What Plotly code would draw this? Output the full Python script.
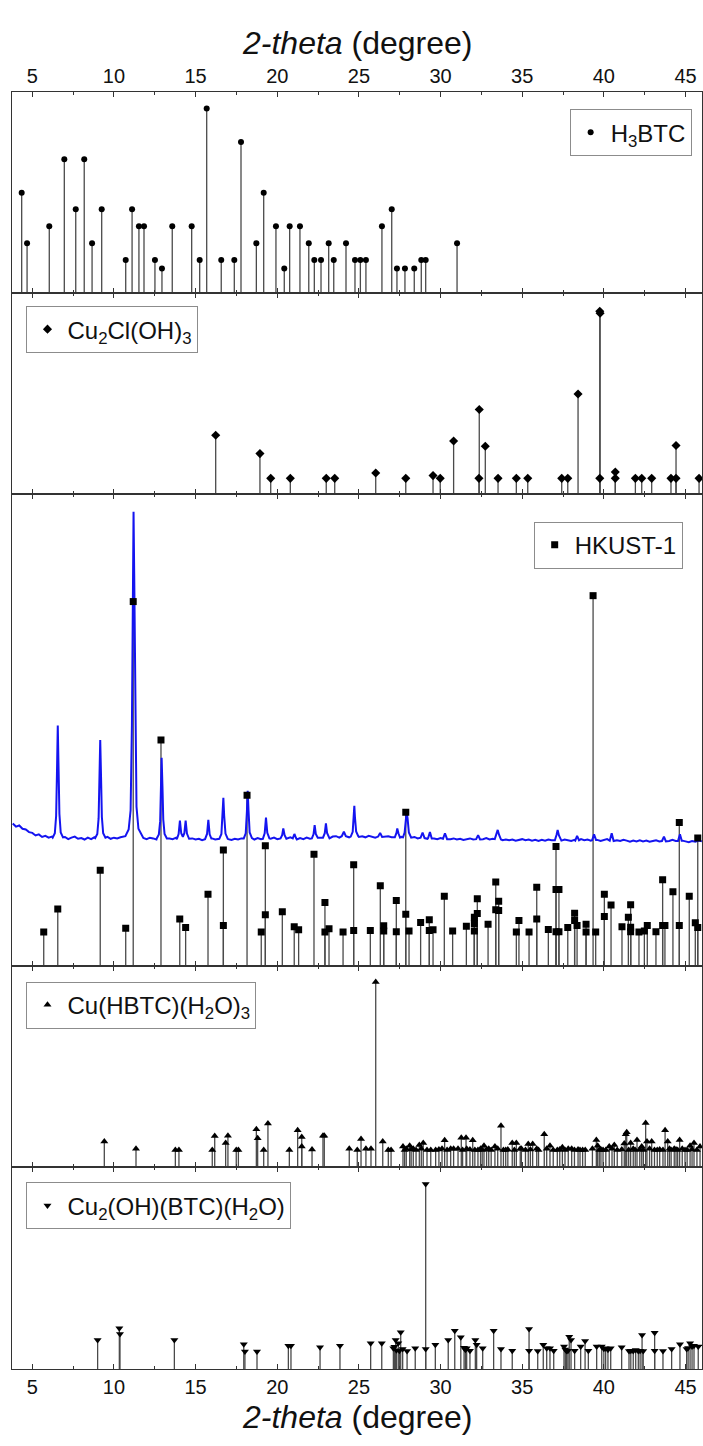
import numpy as np
import plotly.graph_objects as go
from plotly.subplots import make_subplots

FONT = "Arial, 'Liberation Sans', sans-serif"

# ---------------- reference stick patterns (2-theta, relative intensity) ----------------
h3btc_2theta = [4.35, 4.68, 6.04, 6.96, 7.66, 8.18, 8.66, 9.25, 10.72, 11.11, 11.53, 11.84,
                12.51, 12.94, 13.57, 14.76, 15.25, 15.68, 16.57, 17.37, 17.78, 18.72, 19.17,
                19.92, 20.43, 20.76, 21.39, 21.93, 22.27, 22.68, 23.15, 23.46, 24.21, 24.76,
                25.09, 25.43, 26.41, 27.01, 27.33, 27.82, 28.39, 28.82, 29.09, 31.01]
h3btc_int = [54.5, 27.1, 36.3, 72.6, 45.5, 72.6, 27.1, 45.5, 18.0, 45.5, 36.3, 36.3,
             18.0, 13.4, 36.3, 36.3, 18.0, 100, 18.0, 18.0, 81.9, 27.1, 54.5,
             36.3, 13.4, 36.3, 36.3, 27.1, 18.0, 18.0, 27.1, 18.0, 27.1, 18.0,
             18.0, 18.0, 36.3, 45.5, 13.4, 13.4, 13.4, 18.0, 18.0, 27.1]

cucl_2theta = [16.23, 18.94, 19.60, 20.80, 23.00, 23.52, 26.03, 27.87, 29.54, 29.98, 30.80,
               32.35, 32.37, 32.74, 33.52, 34.64, 35.34, 37.42, 37.79, 38.42, 39.75, 39.77,
               39.75, 40.70, 40.70, 41.93, 42.32, 42.93, 44.11, 44.42, 44.42, 45.83]
cucl_int = [32.2, 22.2, 8.7, 8.7, 8.7, 8.7, 11.6, 8.7, 10.2, 8.7, 29.1,
            8.7, 46.3, 26.2, 8.7, 8.7, 8.7, 8.7, 8.7, 54.8, 100, 98.9,
            8.7, 12.2, 8.7, 8.7, 8.7, 8.7, 8.7, 26.6, 8.7, 8.7]

hkust_2theta = [5.70, 6.56, 9.16, 10.72, 11.18, 12.88, 14.03, 14.39, 15.76, 16.70, 16.70,
                18.15, 19.02, 19.27, 19.27, 20.31, 21.04, 21.31, 22.25, 22.92, 22.92, 23.17,
                24.03, 24.68, 24.68, 25.70, 26.31, 26.52, 26.52, 27.29, 27.29, 27.87, 27.87,
                28.07, 28.78, 29.31, 29.31, 29.54, 30.23, 30.74, 31.58, 32.07, 32.07, 32.07,
                32.25, 32.25, 32.91, 33.38, 33.38, 33.56, 33.56, 34.64, 34.80, 35.42, 35.89,
                35.89, 36.60, 37.07, 37.07, 37.07, 37.25, 37.25, 37.79, 38.21, 38.21, 38.36,
                38.91, 38.91, 39.34, 39.50, 40.03, 40.03, 40.44, 41.11, 41.50, 41.64, 41.64,
                41.64, 42.15, 42.48, 42.66, 43.19, 43.60, 43.60, 43.74, 44.23, 44.62, 44.62,
                45.23, 45.60, 45.75, 45.75]
hkust_int = [9.1, 15.3, 25.8, 10.1, 98.4, 61.0, 12.6, 10.3, 19.3, 31.3, 10.9,
             46.1, 9.1, 32.4, 13.8, 14.6, 10.5, 9.7, 30.1, 17.1, 9.1, 10.0,
             9.1, 27.3, 9.5, 9.5, 21.6, 10.8, 9.4, 17.6, 9.2, 41.5, 13.9,
             9.4, 11.7, 12.4, 9.5, 9.7, 18.8, 9.4, 10.7, 13.1, 11.4, 9.4,
             18.1, 14.1, 11.2, 22.6, 15.1, 17.4, 14.9, 9.1, 12.2, 9.1, 21.2,
             12.6, 9.8, 32.2, 20.6, 9.2, 20.6, 9.2, 10.3, 14.2, 12.2, 10.9,
             11.2, 9.1, 100, 9.1, 19.3, 13.3, 16.4, 10.5, 13.1, 16.5, 10.4,
             9.2, 9.1, 9.4, 10.9, 9.2, 23.2, 10.9, 10.9, 20.0, 38.7, 10.9,
             18.8, 11.6, 34.5, 10.3]

cuhbtc_2theta = [9.41, 11.35, 13.76, 13.98, 16.02, 16.17, 16.84, 16.98, 17.49, 17.62, 18.72,
                 18.80, 19.17, 19.43, 20.74, 21.25, 21.50, 21.50, 22.13, 22.80, 22.88, 24.41,
                 24.90, 25.13, 25.43, 25.74, 26.03, 26.46, 26.80, 26.97, 27.70, 27.90, 28.11,
                 28.33, 28.70, 28.94, 29.17, 29.70, 30.09, 30.25, 30.62, 31.07, 31.27, 31.56,
                 31.60, 31.97, 32.29, 32.66, 32.95, 33.33, 33.70, 33.99, 34.39, 34.64, 34.88,
                 35.37, 35.64, 35.89, 36.35, 36.70, 37.15, 37.46, 38.03, 38.54, 38.86, 39.54,
                 39.62, 39.95, 40.33, 40.64, 41.25, 41.34, 41.40, 41.64, 42.03, 42.32, 42.56,
                 42.64, 42.93, 43.27, 43.75, 43.91, 44.31, 44.64, 44.97, 45.28, 45.52, 45.89,
                 27.80, 28.20, 28.50, 28.82, 29.40, 29.90, 30.40, 30.80, 31.35, 31.80, 32.10,
                 32.45, 32.55, 32.82, 33.10, 33.50, 33.85, 34.12, 34.52, 34.95, 35.20, 35.50,
                 36.00, 36.50, 36.90, 37.30, 37.62, 37.82, 38.20, 38.42, 38.70, 39.30, 39.72,
                 39.82, 40.12, 40.50, 40.82, 41.10, 41.52, 41.80, 41.92, 42.20, 42.42, 42.80,
                 43.10, 43.42, 43.62, 44.02, 44.12, 44.42, 44.52, 44.80, 45.10, 45.40, 45.70]
cuhbtc_int = [13.9, 10.1, 9.3, 9.3, 9.3, 16.9, 13.1, 17.1, 9.3, 9.3, 20.5,
              15.7, 9.3, 23.6, 9.3, 20.0, 16.4, 11.2, 9.6, 17.1, 17.1, 10.1,
              9.3, 15.3, 10.1, 10.1, 100, 13.9, 9.3, 9.3, 11.2, 10.1, 11.7,
              10.1, 12.0, 13.1, 9.3, 9.3, 10.1, 14.6, 10.1, 10.1, 16.0, 16.0,
              10.1, 14.6, 9.3, 11.7, 10.1, 11.2, 22.5, 9.3, 13.1, 13.1, 10.1,
              12.6, 12.6, 10.1, 17.8, 11.7, 9.3, 10.8, 10.1, 9.3, 9.3, 14.7,
              11.7, 9.3, 11.2, 12.0, 12.9, 17.8, 19.0, 13.1, 14.7, 11.2, 23.9,
              13.9, 13.9, 9.3, 20.0, 13.9, 10.1, 14.7, 9.3, 11.7, 13.1, 11.2,
              9.3, 9.6, 9.3, 10.1, 9.3, 9.6, 9.3, 10.1, 9.3, 9.6, 9.3,
              10.1, 9.3, 9.6, 9.3, 10.1, 9.3, 9.6, 9.3, 10.1, 9.3, 9.6,
              9.3, 10.1, 9.3, 9.6, 9.3, 10.1, 9.3, 9.6, 9.3, 10.1, 9.3,
              9.6, 9.3, 10.1, 9.3, 9.6, 9.3, 10.1, 9.3, 9.6, 9.3, 10.1,
              9.3, 9.6, 9.3, 10.1, 9.3, 9.6, 9.3, 10.1, 9.3, 9.6, 9.3]

cuoh_2theta = [9.00, 10.33, 10.37, 13.70, 17.95, 18.02, 18.76, 20.68, 20.84, 22.62, 23.84,
               25.72, 26.40, 27.11, 27.17, 27.25, 27.41, 27.56, 27.68, 27.95, 28.45, 29.09,
               29.09, 29.68, 30.47, 30.87, 31.24, 31.44, 31.60, 31.80, 32.13, 32.21, 32.58,
               33.25, 33.70, 34.39, 35.42, 35.42, 35.95, 36.29, 36.50, 36.70, 36.93, 37.56,
               37.72, 37.88, 37.99, 38.21, 38.58, 38.85, 39.05, 39.56, 39.87, 40.11, 40.42,
               41.09, 41.54, 41.80, 42.11, 42.34, 42.41, 43.11, 43.11, 43.62, 44.15, 44.66,
               45.07, 45.28, 45.52, 45.78, 27.30, 27.48, 31.52, 37.64, 37.80, 40.00, 40.25,
               41.65, 41.95, 42.22, 45.16, 45.40]
cuoh_int = [15.7, 22.0, 18.9, 15.7, 13.4, 9.4, 9.4, 12.6, 12.6, 11.7, 12.6,
            13.9, 13.9, 11.2, 12.0, 15.7, 13.9, 19.8, 10.8, 9.7, 11.2, 100,
            10.8, 13.1, 15.7, 20.7, 17.1, 11.5, 11.2, 9.9, 15.7, 13.1, 11.2,
            20.7, 10.8, 9.9, 21.6, 9.9, 9.7, 13.1, 11.2, 11.2, 9.9, 12.1,
            9.7, 17.5, 15.7, 9.9, 12.1, 15.1, 9.9, 12.1, 12.1, 11.2, 11.2,
            11.7, 9.7, 9.7, 9.7, 18.4, 9.7, 19.6, 9.9, 9.7, 10.8, 13.4,
            10.8, 13.9, 12.6, 12.1, 10.2, 9.8, 10.4, 10.6, 9.9, 11.0, 10.4,
            9.9, 10.3, 9.8, 11.3, 12.1]

# ---------------- measured HKUST-1 pattern (blue trace, offset above the sticks) ----------------
# background sampled every 0.2 degree starting at 3.8
exp_background = [38.4, 37.6, 37.9, 37.0, 36.8, 36.1, 35.9, 35.2, 35.5, 34.8, 35.1, 34.6,
                  34.9, 34.4, 34.7, 34.3, 34.8, 34.2, 34.6, 34.9, 34.3, 34.5, 34.1, 34.6, 34.2, 34.7, 34.4, 34.0, 34.5, 34.8, 34.3, 34.6,
                  34.4, 34.7, 34.9, 35.2, 35.6, 35.0, 34.6, 34.3, 34.5, 34.2, 34.6, 34.4, 34.1, 34.5, 34.3, 34.0, 34.4, 34.2, 34.6, 34.3,
                  34.5, 34.2, 34.0, 34.4, 34.1, 34.3, 33.9, 34.2, 34.0, 34.4, 34.1, 34.3, 34.0, 34.5, 34.2, 34.0, 34.3, 34.1, 34.4, 34.2,
                  34.6, 34.3, 34.1, 34.5, 34.2, 34.4, 34.0, 34.3, 34.6, 34.2, 34.5, 34.1, 34.4, 34.7, 34.3, 34.1, 34.5, 34.2, 34.6, 34.3,
                  34.5, 34.2, 34.6, 34.3, 34.7, 34.4, 34.9, 35.0, 34.6, 34.8, 35.1, 34.7, 34.9, 35.2, 34.8, 35.0, 34.7, 35.1, 34.8, 34.6,
                  34.9, 35.2, 34.8, 35.0, 34.7, 34.9, 34.6, 34.8, 34.5, 34.9, 34.6, 34.8, 34.4, 34.7, 34.5, 34.3, 34.6, 34.4, 34.2, 34.5,
                  34.3, 34.6, 34.2, 34.4, 34.1, 34.3, 34.0, 34.2, 34.4, 34.1, 34.3, 34.0, 34.2, 34.5, 34.1, 34.3, 34.0, 34.2, 33.9, 34.1,
                  33.9, 34.1, 33.8, 34.0, 34.2, 33.9, 34.1, 33.8, 34.0, 33.7, 34.0, 33.8, 34.1, 33.9, 33.7, 34.0, 33.8, 34.1, 33.9, 33.7,
                  34.0, 33.8, 34.2, 33.9, 34.1, 33.8, 34.3, 34.0, 33.7, 34.0, 34.2, 33.8, 33.6, 33.9, 33.7, 34.0, 33.8, 33.5, 33.8, 33.6,
                  33.9, 33.6, 33.8, 33.5, 33.7, 33.9, 33.6, 33.8, 33.5, 33.7, 34.0, 33.7, 33.5, 33.8, 33.6, 33.4, 33.7, 33.5, 33.8, 33.6]
exp_bg_start, exp_bg_step = 3.8, 0.2

# reflections of the measured pattern, one list of points per reflection
exp_peak_2theta = [
    [6.25, 6.38, 6.46, 6.51, 6.56, 6.61, 6.66, 6.74, 6.88],
    [8.85, 8.98, 9.06, 9.11, 9.16, 9.21, 9.26, 9.34, 9.48],
    [10.70, 10.90, 11.02, 11.10, 11.16, 11.20, 11.24, 11.30, 11.38, 11.50, 11.72],
    [12.62, 12.75, 12.83, 12.88, 12.92, 12.97, 13.02, 13.10, 13.24],
    [13.85, 13.96, 14.04, 14.12, 14.22, 14.31, 14.39, 14.47, 14.60],
    [15.58, 15.70, 15.78, 15.86, 15.98],
    [16.45, 16.58, 16.65, 16.70, 16.75, 16.83, 16.97],
    [17.95, 18.07, 18.14, 18.19, 18.24, 18.31, 18.45],
    [19.12, 19.23, 19.31, 19.39, 19.52],
    [20.20, 20.30, 20.37, 20.45, 20.56],
    [20.95, 21.05, 21.15],
    [22.12, 22.22, 22.29, 22.36, 22.48],
    [22.80, 22.91, 22.98, 23.05, 23.18],
    [23.95, 24.08, 24.20],
    [24.50, 24.62, 24.68, 24.72, 24.76, 24.83, 24.96],
    [26.18, 26.30, 26.42],
    [27.20, 27.30, 27.35, 27.42, 27.52],
    [27.70, 27.80, 27.86, 27.92, 27.98, 28.06, 28.20],
    [28.78, 28.90, 29.02],
    [29.24, 29.35, 29.46],
    [30.15, 30.27, 30.40],
    [32.18, 32.30, 32.42],
    [33.32, 33.42, 33.50, 33.58, 33.70],
    [37.00, 37.10, 37.17, 37.25, 37.36],
    [38.25, 38.36, 38.48],
    [39.28, 39.40, 39.52],
    [40.36, 40.48, 40.60],
    [43.56, 43.68, 43.80],
    [44.54, 44.66, 44.78],
]
exp_peak_counts = [
    [34.6, 35.8, 40.5, 52.0, 64.9, 53.0, 41.0, 36.0, 34.7],
    [34.5, 35.6, 39.8, 50.5, 61.0, 51.0, 40.2, 35.8, 34.6],
    [35.0, 36.8, 42.0, 65.0, 105.0, 122.7, 106.0, 66.0, 43.0, 37.0, 35.0],
    [34.4, 35.5, 39.0, 48.0, 56.2, 48.5, 39.5, 35.6, 34.4],
    [34.2, 35.6, 39.2, 35.8, 34.8, 35.8, 39.2, 35.7, 34.3],
    [34.2, 35.6, 39.4, 35.5, 34.2],
    [34.3, 35.6, 40.0, 45.4, 40.5, 35.7, 34.3],
    [34.4, 35.8, 41.5, 47.3, 42.0, 36.0, 34.5],
    [34.3, 35.8, 40.0, 35.9, 34.4],
    [34.4, 35.3, 37.1, 35.3, 34.3],
    [34.4, 35.6, 34.5],
    [34.4, 35.5, 38.0, 35.6, 34.6],
    [34.6, 35.8, 38.5, 35.9, 34.8],
    [35.0, 36.2, 35.0],
    [34.9, 36.2, 39.5, 43.2, 40.0, 36.3, 35.0],
    [34.9, 35.9, 34.8],
    [34.7, 35.9, 37.1, 35.8, 34.6],
    [34.7, 36.0, 39.5, 41.5, 39.8, 36.0, 34.6],
    [34.6, 36.0, 34.5],
    [34.5, 36.1, 34.4],
    [34.3, 35.8, 34.2],
    [34.2, 35.3, 34.1],
    [34.2, 35.4, 36.7, 35.4, 34.1],
    [33.9, 35.3, 36.7, 35.2, 33.8],
    [33.8, 35.1, 33.9],
    [33.9, 35.5, 34.0],
    [33.8, 35.8, 33.7],
    [33.7, 34.9, 33.6],
    [33.7, 35.5, 33.6],
]

# ---------------- helpers ----------------
def stem_path(xs, ys):
    px, py = [], []
    for a, b in zip(xs, ys):
        px += [a, a, None]
        py += [0, b, None]
    return px, py


def measured_curve():
    bx = exp_bg_start + exp_bg_step * np.arange(len(exp_background))
    by = np.array(exp_background, dtype=float)
    keep = np.ones(len(bx), dtype=bool)
    for seg in exp_peak_2theta:
        keep &= ~((bx >= min(seg) - 1e-9) & (bx <= max(seg) + 1e-9))
    xs = list(bx[keep])
    ys = list(by[keep])
    for sx, sy in zip(exp_peak_2theta, exp_peak_counts):
        xs += sx
        ys += sy
    order = np.argsort(xs)
    return np.array(xs)[order], np.array(ys)[order]


STEM = dict(color="#4a4a4a", width=1.3)
BLACK = "#000000"

panels = [
    # (x, y, symbol, size, legend name, legend id, y max)
    (h3btc_2theta, h3btc_int, "circle", 6, "H<sub>3</sub>BTC", "legend", 109.0),
    (cucl_2theta, cucl_int, "diamond", 7, "Cu<sub>2</sub>Cl(OH)<sub>3</sub>", "legend2", 109.8),
    (hkust_2theta, hkust_int, "square", 7, "HKUST-1", "legend3", 127.4),
    (cuhbtc_2theta, cuhbtc_int, "triangle-up", 7, "Cu(HBTC)(H<sub>2</sub>O)<sub>3</sub>", "legend4", 108.8),
    (cuoh_2theta, cuoh_int, "triangle-down", 7, "Cu<sub>2</sub>(OH)(BTC)(H<sub>2</sub>O)", "legend5", 109.0),
]

fig = make_subplots(rows=5, cols=1, vertical_spacing=0)

for i, (xs, ys, sym, size, name, leg, ymax) in enumerate(panels, start=1):
    sx, sy = stem_path(xs, ys)
    fig.add_trace(go.Scatter(x=sx, y=sy, mode="lines", line=STEM, showlegend=False,
                             hoverinfo="skip"), row=i, col=1)
    if i == 3:
        ex, ey = measured_curve()
        fig.add_trace(go.Scatter(x=ex, y=ey, mode="lines",
                                 line=dict(color="#1414f0", width=2.0),
                                 showlegend=False), row=i, col=1)
    fig.add_trace(go.Scatter(x=xs, y=ys, mode="markers", name=name, legend=leg,
                             marker=dict(symbol=sym, size=size, color=BLACK,
                                         line=dict(width=0))),
                  row=i, col=1)

# panel heights (paper fractions)
domains = [[0.8424, 1.0], [0.6850, 0.8424], [0.3158, 0.6850], [0.1579, 0.3158], [0.0, 0.1579]]

AX = "#333333"
for i in range(1, 6):
    xa = dict(range=[3.757, 46.01], tick0=5, dtick=5, ticks="inside", ticklen=5,
              tickwidth=1, tickcolor=AX, showline=True, linecolor=AX, linewidth=1,
              mirror="allticks", showgrid=False, zeroline=False,
              minor=dict(ticks="inside", ticklen=3, dtick=2.5, tick0=5, tickcolor=AX,
                         showgrid=False),
              tickfont=dict(size=20, family=FONT, color="#111111"),
              showticklabels=(i in (1, 5)))
    if i == 1:
        xa["side"] = "top"
    if i > 1:
        xa["matches"] = "x"
    ya = dict(domain=domains[i - 1], range=[0, panels[i - 1][6]], showline=True,
              linecolor=AX, linewidth=1, mirror=True, ticks="", showticklabels=False,
              showgrid=False, zeroline=False)
    fig.update_xaxes(xa, row=i, col=1)
    fig.update_yaxes(ya, row=i, col=1)

legend_style = dict(bordercolor="#8c8c8c", borderwidth=1, bgcolor="white",
                    font=dict(size=24, family=FONT, color="#111111"),
                    yanchor="top", itemsizing="trace")
fig.update_layout(
    width=703, height=1446,
    margin=dict(l=12, r=1, t=92, b=77),
    paper_bgcolor="white", plot_bgcolor="white",
    legend=dict(legend_style, x=0.985, y=0.9865, xanchor="right"),
    legend2=dict(legend_style, x=0.021, y=0.8324, xanchor="left"),
    legend3=dict(legend_style, x=0.972, y=0.6635, xanchor="right"),
    legend4=dict(legend_style, x=0.021, y=0.3033, xanchor="left"),
    legend5=dict(legend_style, x=0.021, y=0.1462, xanchor="left"),
    annotations=[
        dict(text="<i>2-theta</i> (degree)", x=0.5, y=1.0385, xref="paper", yref="paper",
             xanchor="center", yanchor="middle", showarrow=False,
             font=dict(size=32, family=FONT, color="#111111")),
        dict(text="<i>2-theta</i> (degree)", x=0.5, y=-0.0376, xref="paper", yref="paper",
             xanchor="center", yanchor="middle", showarrow=False,
             font=dict(size=32, family=FONT, color="#111111")),
    ],
)

fig.write_html("out.html")
